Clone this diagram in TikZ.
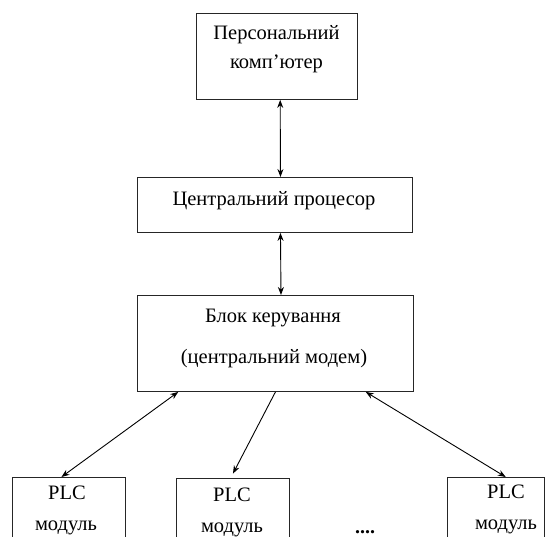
\documentclass[tikz,border=0pt]{standalone}
\usepackage{fontspec}
\setmainfont{Liberation Serif}
\usetikzlibrary{arrows.meta,calc}
\begin{document}
\begin{tikzpicture}[x=1pt,y=-1pt,
  box/.style={draw=black!85,line width=0.9pt,inner sep=0pt,anchor=north west},
  lbl/.style={font=\fontsize{20.5}{24}\selectfont,inner sep=0pt,text height=0.7em,text depth=0.22em},
  dbl/.style={line width=0.9pt,{Stealth[length=8pt,width=6pt]}-{Stealth[length=8pt,width=6pt]}},
  sgl/.style={line width=0.9pt,-{Stealth[length=8pt,width=6pt]}}]
\useasboundingbox (0,0) rectangle (548,537);
\begin{scope}
\clip (0,0) rectangle (548,537);
% boxes
\node[box,minimum width=161pt,minimum height=86pt] (pc) at (196,13) {};
\node[box,minimum width=275pt,minimum height=55pt] (cpu) at (137,177) {};
\node[box,minimum width=276pt,minimum height=96pt] (ctl) at (137,295) {};
\node[box,minimum width=113pt,minimum height=90pt] (m1) at (12,477) {};
\node[box,minimum width=113pt,minimum height=90pt] (m2) at (176,478) {};
\node[box,minimum width=97pt,minimum height=90pt] (m3) at (447,477) {};
% texts
\node[lbl] (t1a) at (276.5,37) {Персональний};
\node[lbl] (t1b) at (276.5,66) {комп’ютер};
\node[lbl] (t2) at (274,203) {Центральний процесор};
\node[lbl] (t3a) at (273,320) {Блок керування};
\node[lbl] (t3b) at (274,361) {(центральний модем)};
\node[lbl] (t4a) at (67,497) {PLC};
\node[lbl] (t4b) at (66,528) {модуль};
\node[lbl] (t5a) at (232,499) {PLC};
\node[lbl] (t5b) at (232,530) {модуль};
\node[lbl] (t6a) at (506,496) {PLC};
\node[lbl] (t6b) at (506,527) {модуль};
\node[font=\fontsize{20}{24}\selectfont\bfseries,inner sep=0pt,text height=4pt,text depth=0pt,anchor=base] (dots) at (365,533) {....};
% connectors
\draw[dbl] ($(pc.south west)!0.52!(pc.south east)$) -- ($(cpu.north west)!0.52!(cpu.north east)$);
\draw[dbl] ($(cpu.south west)!0.52!(cpu.south east)$) -- ($(ctl.north west)!0.52!(ctl.north east)$);
\draw[dbl] ($(ctl.south west)!0.149!(ctl.south east)$) -- ($(m1.north west)!0.434!(m1.north east)$);
\draw[sgl,shorten >=5pt] ($(ctl.south west)!0.5!(ctl.south east)$) -- ($(m2.north west)!0.48!(m2.north east)$);
\draw[dbl] ($(ctl.south west)!0.826!(ctl.south east)$) -- ($(m3.north west)!0.6!(m3.north east)$);
\end{scope}
\end{tikzpicture}
\end{document}
